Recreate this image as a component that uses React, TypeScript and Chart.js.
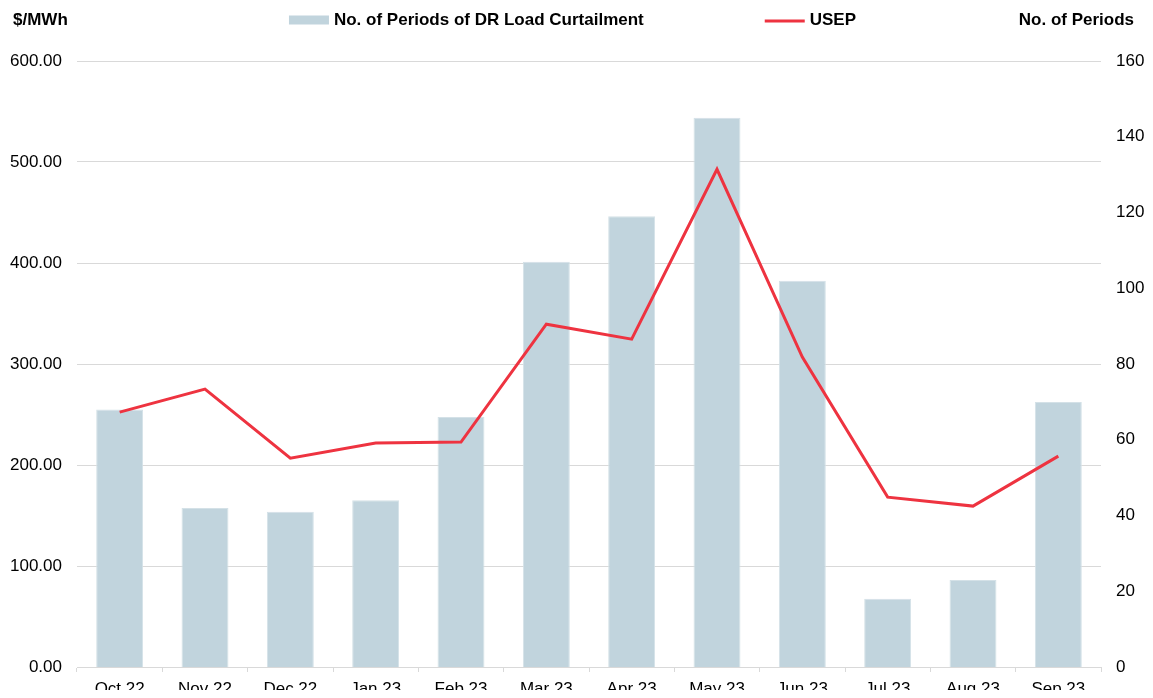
import React, { useEffect, useRef } from "react";
import { Chart, registerables } from "chart.js";

Chart.register(...registerables);

const categories = ["Oct 22", "Nov 22", "Dec 22", "Jan 23", "Feb 23", "Mar 23", "Apr 23", "May 23", "Jun 23", "Jul 23", "Aug 23", "Sep 23"];
const drPeriods = [68, 42, 41, 44, 66, 107, 119, 145, 102, 18, 23, 70];
const usep = [252.4, 275.1, 206.8, 221.7, 222.7, 339.4, 324.6, 492.8, 306.8, 168.2, 159.3, 208.8];
const barLabel = "No. of Periods of DR Load Curtailment";
const lineLabel = "USEP";
const leftTitle = "$/MWh";
const rightTitle = "No. of Periods";

const BAR_COLOR = "#c1d4dd";
const LINE_COLOR = "#ee3340";
const FONT = "Arial, 'Liberation Sans', sans-serif";
const W = 1137;
const H = 690;

const headerPlugin = {
  id: "header",
  afterDraw(chart: any) {
    const ctx = chart.ctx;
    ctx.save();
    ctx.fillStyle = "#000";
    ctx.font = `bold 17px ${FONT}`;
    ctx.textBaseline = "middle";
    const y = 12;
    ctx.textAlign = "left";
    ctx.fillText(leftTitle, 5, y);
    ctx.textAlign = "right";
    ctx.fillText(rightTitle, chart.width - 11, y);

    // legend
    const sw = 40;
    const gapText = 5;
    const gapItems = 121;
    const w1 = ctx.measureText(barLabel).width;
    const w2 = ctx.measureText(lineLabel).width;
    const total = sw + gapText + w1 + gapItems + sw + gapText + w2;
    let x = chart.width / 2 - 4 - total / 2;
    ctx.fillStyle = BAR_COLOR;
    ctx.fillRect(x, y - 4.5, sw, 9);
    x += sw + gapText;
    ctx.fillStyle = "#000";
    ctx.textAlign = "left";
    ctx.fillText(barLabel, x, y);
    x += w1 + gapItems;
    ctx.strokeStyle = LINE_COLOR;
    ctx.lineWidth = 3;
    ctx.beginPath();
    ctx.moveTo(x, y + 1);
    ctx.lineTo(x + sw, y + 1);
    ctx.stroke();
    x += sw + gapText;
    ctx.fillText(lineLabel, x, y);
    ctx.restore();
  },
};

export default function App() {
  const ref = useRef<HTMLCanvasElement>(null);
  useEffect(() => {
    if (!ref.current) return;
    const chart = new Chart(ref.current, {
      data: {
        labels: categories,
        datasets: [
          {
            type: "line",
            label: lineLabel,
            data: usep,
            yAxisID: "y",
            borderColor: LINE_COLOR,
            backgroundColor: LINE_COLOR,
            borderWidth: 3,
            pointRadius: 0,
            tension: 0,
            order: 0,
          },
          {
            type: "bar",
            label: barLabel,
            data: drPeriods,
            yAxisID: "y2",
            backgroundColor: BAR_COLOR,
            borderColor: "#d4e1e7",
            borderWidth: 1,
            barPercentage: 0.55,
            categoryPercentage: 1,
            order: 1,
          },
        ],
      } as any,
      options: {
        animation: false,
        responsive: false,
        maintainAspectRatio: false,
        devicePixelRatio: 1,
        layout: { padding: { top: 53, left: 0, right: 0, bottom: 0 } },
        plugins: { legend: { display: false }, tooltip: { enabled: false } },
        scales: {
          x: {
            offset: true,
            grid: { offset: true, drawOnChartArea: false, drawTicks: true, tickLength: 5, color: "#d9d9d9" },
            border: { display: true, color: "#d9d9d9" },
            ticks: { color: "#000", font: { size: 17, family: FONT }, padding: 7, maxRotation: 0, autoSkip: false },
            afterFit: (s: any) => { s.height = H - 659; },
          },
          y: {
            position: "left",
            min: 0,
            max: 600,
            ticks: { stepSize: 100, color: "#000", font: { size: 17, family: FONT }, padding: 15, callback: (v: any) => Number(v).toFixed(2) },
            grid: { color: "#d9d9d9", drawTicks: false },
            border: { display: false },
            afterFit: (s: any) => { s.width = 69; s.paddingTop = 0; s.paddingBottom = 0; },
          },
          y2: {
            position: "right",
            min: 0,
            max: 160,
            ticks: { stepSize: 20, color: "#000", font: { size: 17, family: FONT }, padding: 15 },
            grid: { display: false, drawTicks: false },
            border: { display: false },
            afterFit: (s: any) => { s.width = 44; s.paddingTop = 0; s.paddingBottom = 0; },
          },
        },
      },
      plugins: [headerPlugin],
    });
    return () => chart.destroy();
  }, []);
  return (
    <div style={{ width: W, height: H, marginBottom: -8 }}>
      <canvas ref={ref} width={W} height={H} style={{ display: "block", width: W, height: H }} />
    </div>
  );
}
